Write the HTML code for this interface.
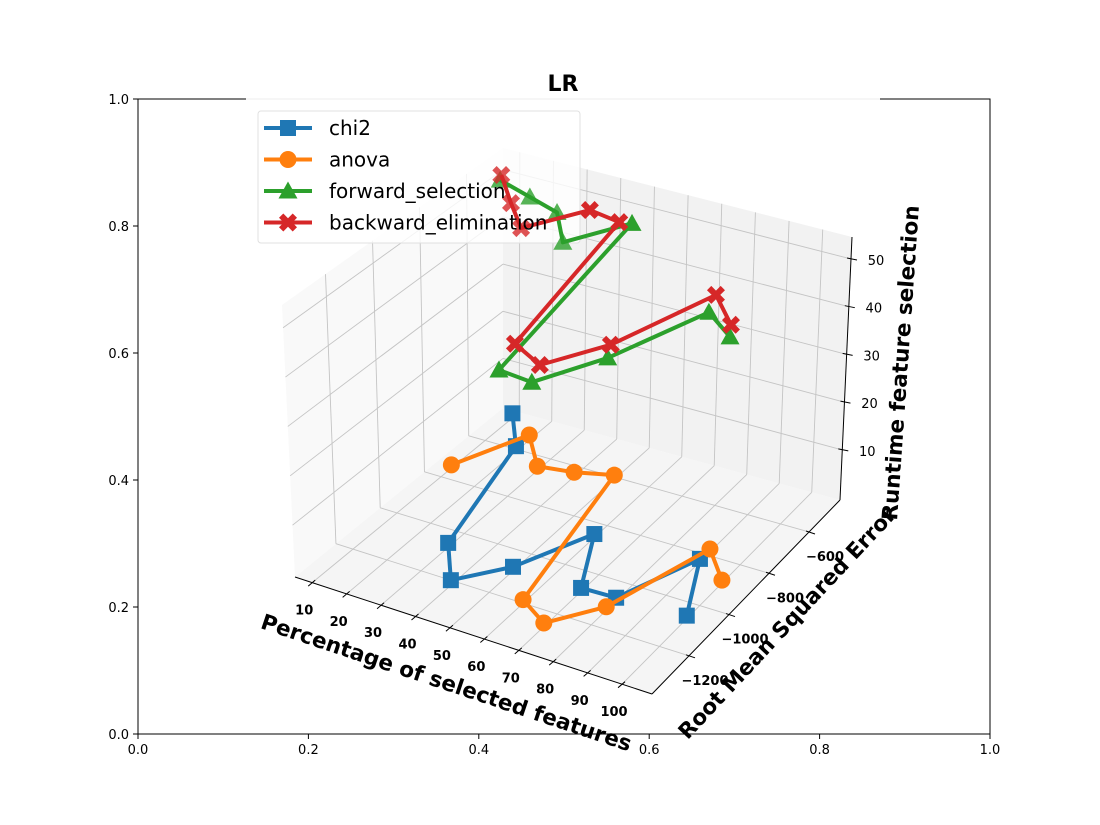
<!DOCTYPE html>
<html><head><meta charset="utf-8"><style>
html,body{margin:0;padding:0;background:#fff;}
svg{display:block;font-family:"DejaVu Sans","Liberation Sans",sans-serif;}
</style></head><body>
<svg id="chart" width="1100" height="825" viewBox="0 0 1100 825" xmlns="http://www.w3.org/2000/svg">
<g id="frame"></g>
<g id="panes"></g>
<g id="grid"></g>
<g id="axes3d"></g>
<g id="legendbg"></g>
<g id="series"></g>
<g id="legend"></g>
<text x="563" y="91" text-anchor="middle" font-size="22" font-weight="bold">LR</text>
</svg>
<script>
// ---- data ----
const xValues = [10,20,30,40,50,60,70,80,90,100];
const chi2Rmse = [-476,-609,-1074,-1219,-1087,-861,-1085,-1079,-834,-1064];
const chi2Runtime = [0.5,0.6,0.4,0.5,0.3,0.2,0.2,0.1,0.1,0.1];
const anovaRmse = [-753,-548,-662,-644,-610,-1200,-1264,-1127,-785,-890];
const anovaRuntime = [0.2,0.6,0.4,0.4,0.4,0.2,0.2,0.2,0.1,0.1];
const forwardRmse = [-529,-546,-574,-695,-541,-1272,-1279,-1095,-797,-854];
const forwardRuntime = [51.7,50.6,50.2,50.2,50.4,48.7,48.5,48.7,48.9,47.9];
const backwardRmse = [-524,-627,-729,-578,-597,-1200,-1242,-1080,-766,-850];
const backwardRuntime = [52.6,52.2,52.5,52.7,52.7,51.4,50.6,50.8,51.3,50.2];
const xTicks = [10,20,30,40,50,60,70,80,90,100];
const yTicks = [-1200,-1000,-800,-600];
const zTicks = [10,20,30,40,50];
const frameTicks = ["0.0","0.2","0.4","0.6","0.8","1.0"];

// ---- axis limits & projection geometry ----
const XL=5.0, XH=108.7, YL=-1385, YH=-445, ZL=-0.5, ZH=54.6;
const C = {
  c000:[295,577], c100:[652,694], c010:[503,408], c110:[840,500],
  c001:[282,305], c101:[640,409], c011:[503,148], c111:[852,237]
};
function lerp(a,b,t){return [a[0]+(b[0]-a[0])*t, a[1]+(b[1]-a[1])*t];}
function P(x,y,z){
  const u=(x-XL)/(XH-XL), v=(y-YL)/(YH-YL), w=(z-ZL)/(ZH-ZL);
  const b0=lerp(lerp(C.c000,C.c100,u),lerp(C.c010,C.c110,u),v);
  const b1=lerp(lerp(C.c001,C.c101,u),lerp(C.c011,C.c111,u),v);
  return lerp(b0,b1,w);
}
const NS="http://www.w3.org/2000/svg";
function mk(tag,attrs,parent){const e=document.createElementNS(NS,tag);for(const k in attrs)e.setAttribute(k,attrs[k]);parent.appendChild(e);return e;}
function line(a,b,stroke,sw,parent){return mk('line',{x1:a[0],y1:a[1],x2:b[0],y2:b[1],stroke:stroke,'stroke-width':sw},parent);}

// ---- outer 2D frame ----
const frame=document.getElementById('frame');
const fr=mk('rect',{x:138,y:99,width:852,height:635,fill:'none',stroke:'#000','stroke-width':1},frame);


frameTicks.forEach((t,i)=>{
  const fx=138+852*i/5, fy=734-635*i/5;
  line([fx,734],[fx,739],'#000',1,frame);
  const tx=mk('text',{x:fx,y:754,'text-anchor':'middle','font-size':13},frame);
  tx.textContent=t;
  
  
  line([133,fy],[138,fy],'#000',1,frame);
  const ty=mk('text',{x:129,y:fy+5,'text-anchor':'end','font-size':13},frame);
  ty.textContent=t;
  
  
});
mk('rect',{x:246,y:96,width:634,height:6,fill:'#fff'},frame);
line([246,99],[880,99],'#ececec',1,frame);

// ---- panes ----
const panes=document.getElementById('panes');
function poly(pts,fill,parent){return mk('polygon',{points:pts.map(p=>p.join(',')).join(' '),fill:fill},parent);}
const pb=poly([P(XL,YL,ZL),P(XH,YL,ZL),P(XH,YH,ZL),P(XL,YH,ZL)],'#f5f5f5',panes);


const pl=poly([P(XL,YL,ZL),P(XL,YH,ZL),P(XL,YH,ZH),P(XL,YL,ZH)],'#f9f9f9',panes);


const pk=poly([P(XL,YH,ZL),P(XH,YH,ZL),P(XH,YH,ZH),P(XL,YH,ZH)],'#f2f2f2',panes);



// ---- gridlines ----
const grid=document.getElementById('grid');
const GC='#c4c4c4';
xTicks.forEach(x=>{
  line(P(x,YL,ZL),P(x,YH,ZL),GC,0.9,grid);
  line(P(x,YH,ZL),P(x,YH,ZH),GC,0.9,grid);
});
yTicks.forEach(y=>{
  line(P(XL,y,ZL),P(XH,y,ZL),GC,0.9,grid);
  line(P(XL,y,ZL),P(XL,y,ZH),GC,0.9,grid);
});
zTicks.forEach(z=>{
  line(P(XL,YL,z),P(XL,YH,z),GC,0.9,grid);
  line(P(XL,YH,z),P(XH,YH,z),GC,0.9,grid);
});

// ---- 3D axes ----
const ax=document.getElementById('axes3d');
const xa=line(P(XL,YL,ZL),P(XH,YL,ZL),'#000',1,ax);


const ya=line(P(XH,YL,ZL),P(XH,YH,ZL),'#000',1,ax);


const za=line(P(XH,YH,ZL),P(XH,YH,ZH),'#000',1,ax);


xTicks.forEach(x=>{
  const p=P(x,YL,ZL);
  line([p[0]+3,p[1]-2.5],[p[0]-4,p[1]+3.5],'#000',1,ax);
  const t=mk('text',{x:p[0]-8,y:p[1]+32,'text-anchor':'middle','font-size':13,'font-weight':'bold'},ax);
  t.textContent=String(x);
  
  
});
yTicks.forEach(y=>{
  const p=P(XH,y,ZL);
  line([p[0]-3,p[1]-1],[p[0]+6,p[1]+2],'#000',1,ax);
  const t=mk('text',{x:p[0]+16,y:p[1]+29,'text-anchor':'middle','font-size':13,'font-weight':'bold'},ax);
  t.textContent='\u2212'+String(Math.abs(y));
  
  
});
zTicks.forEach(z=>{
  const p=P(XH,YH,z);
  line([p[0]-4,p[1]-1],[p[0]+6,p[1]+1],'#000',1,ax);
  const t=mk('text',{x:p[0]+25,y:p[1]+6,'text-anchor':'middle','font-size':13},ax);
  t.textContent=String(z);
  
  
});
function rotText(txt,cx,cy,ang,name){
  const t=mk('text',{x:cx,y:cy,'text-anchor':'middle','dominant-baseline':'middle','font-size':21.5,'font-weight':'bold',transform:`rotate(${ang} ${cx} ${cy})`},ax);
  t.textContent=txt;
  
  
}
rotText('Percentage of selected features',446,684,18.5,'x-axis-title');
rotText('Root Mean Squared Error',788,624,-47,'y-axis-title');
rotText('Runtime feature selection',902,363,-86,'z-axis-title');

// ---- legend background (semi-transparent, under data) ----
const legbg=document.getElementById('legendbg');
mk('rect',{x:258,y:111,width:322,height:132,rx:3,fill:'#fff','fill-opacity':0.8,stroke:'#e0e0e0','stroke-width':1},legbg);

// ---- series ----
const seriesG=document.getElementById('series');
const seriesList=[
  {name:'chi2',color:'#1f77b4',marker:'square',y:chi2Rmse,z:chi2Runtime},
  {name:'anova',color:'#ff7f0e',marker:'circle',y:anovaRmse,z:anovaRuntime},
  {name:'forward_selection',color:'#2ca02c',marker:'triangle',y:forwardRmse,z:forwardRuntime},
  {name:'backward_elimination',color:'#d62728',marker:'xmark',y:backwardRmse,z:backwardRuntime}
];
function drawMarker(type,cx,cy,color,parent){
  let e;
  if(type==='square'){e=mk('rect',{x:cx-8,y:cy-8,width:16,height:16,fill:color},parent);}
  else if(type==='circle'){e=mk('circle',{cx:cx,cy:cy,r:8.5,fill:color},parent);}
  else if(type==='triangle'){e=mk('polygon',{points:`${cx},${cy-9.5} ${cx+9.5},${cy+7.5} ${cx-9.5},${cy+7.5}`,fill:color},parent);}
  else{
    const s=9,k=4.3;
    const pts=[[-s+k,-s],[0,-k],[s-k,-s],[s,-s+k],[k,0],[s,s-k],[s-k,s],[0,k],[-s+k,s],[-s,s-k],[-k,0],[-s,-s+k]];
    e=mk('polygon',{points:pts.map(p=>(cx+p[0])+','+(cy+p[1])).join(' '),fill:color},parent);
  }
  return e;
}
seriesList.forEach(s=>{
  const g=mk('g',{},seriesG);
  
  
  const pts=xValues.map((x,i)=>P(x,s.y[i],s.z[i]));
  const pl=mk('polyline',{points:pts.map(p=>p.join(',')).join(' '),fill:'none',stroke:s.color,'stroke-width':4,'stroke-linejoin':'round'},g);
  
  
  pts.forEach((p,i)=>{
    const m=drawMarker(s.marker,p[0],p[1],s.color,g);
    if(p[1]<245 && p[0]<580) m.setAttribute('fill-opacity','0.8');
    
    
  });
});

// ---- legend entries ----
const leg=document.getElementById('legend');
seriesList.forEach((s,i)=>{
  const cy=128+31.5*i;
  const g=mk('g',{},leg);
  
  
  line([264,cy],[312,cy],s.color,4,g);
  drawMarker(s.marker,288,cy,s.color,g);
  const t=mk('text',{x:329,y:cy+7,'font-size':20},g);
  t.textContent=s.name;
});
</script>
</body></html>
